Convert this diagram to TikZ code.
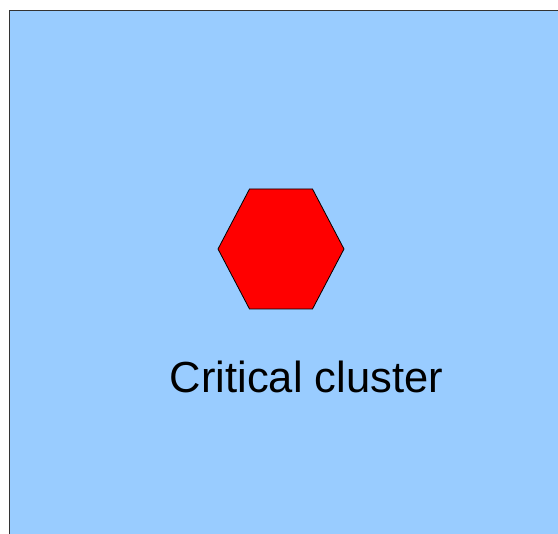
\documentclass[tikz,border=0pt]{standalone}
\usepackage{fontspec}
\setmainfont{Liberation Sans}
\definecolor{sky}{RGB}{153,204,255}
\definecolor{hot}{RGB}{255,0,0}

\begin{document}
\begin{tikzpicture}[x=1pt,y=-1pt,every node/.style={font=\fontsize{43.5}{52}\selectfont}]
\useasboundingbox (0,0) rectangle (558,534);
\clip (0,0) rectangle (558,534);
\draw[fill=sky,draw=black!80,line width=1pt] (9.5,10.5) rectangle (570,545);
% cluster
\coordinate (hex) at (281,249);
\draw[fill=hot,draw=black,line width=0.8pt] (218,249)--(249.5,189)--(312.5,189)--(344,249)--(312.5,309)--(249.5,309)--cycle;
\node[anchor=base,inner sep=0pt] (label) at (306.5,393) {Critical cluster};
\end{tikzpicture}
\end{document}
